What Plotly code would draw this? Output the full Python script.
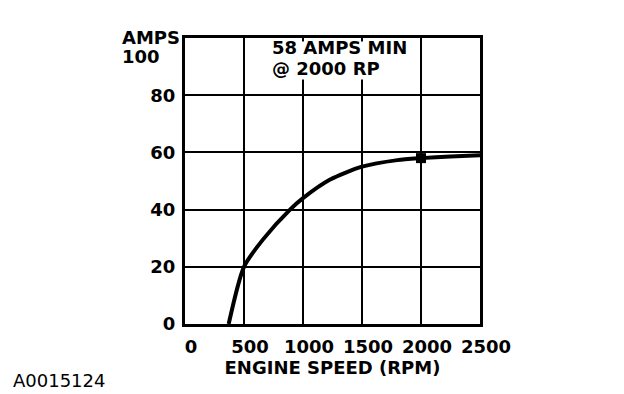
import plotly.graph_objects as go

rpm = [370, 500, 660, 890, 1000, 1230, 1500, 1800, 2000, 2250, 2500]
amps = [0, 20, 29.5, 40, 44, 50.5, 55, 57.3, 58, 58.6, 59]
marker_rpm = [2000]
marker_amps = [58]
x_ticks = [0, 500, 1000, 1500, 2000, 2500]
y_ticks = [0, 20, 40, 60, 80]
y_top_label = "100"
y_unit = "AMPS"
x_title = "ENGINE SPEED (RPM)"
note_lines = ["58 AMPS MIN", "@ 2000 RP"]
figure_id = "A0015124"

FONT = "DejaVu Sans"
BOLD = dict(family=FONT, size=18, color="black", weight="bold")

fig = go.Figure()
fig.add_trace(go.Scatter(x=rpm, y=amps, mode="lines",
                         line=dict(color="black", width=4, shape="spline", smoothing=0.7),
                         hoverinfo="skip", showlegend=False))
fig.add_trace(go.Scatter(x=marker_rpm, y=marker_amps, mode="markers",
                         marker=dict(symbol="square", size=10, color="black"),
                         showlegend=False))

fig.update_xaxes(range=[0, 2500], tickvals=x_ticks, ticktext=[str(v) for v in x_ticks],
                 showgrid=True, gridcolor="black", gridwidth=2,
                 showline=True, linecolor="black", linewidth=3, mirror=True,
                 zeroline=False, ticks="", ticklabelstandoff=4, ticklabelshift=6,
                 tickfont=BOLD,
                 title=dict(text=x_title, standoff=4, font=BOLD))
fig.update_yaxes(range=[0, 100], tickvals=y_ticks, ticktext=[str(v) for v in y_ticks],
                 showgrid=True, gridcolor="black", gridwidth=2,
                 showline=True, linecolor="black", linewidth=3, mirror=True,
                 zeroline=False, ticks="", ticklabelstandoff=3,
                 tickfont=BOLD)

# white patch behind the note (covers the grid lines, as in the reference)
fig.add_shape(type="rect", xref="paper", yref="paper", x0=0.29, x1=0.765, y0=0.855, y1=0.988,
              fillcolor="white", line=dict(width=0), layer="above")

fig.add_annotation(xref="paper", yref="paper", x=-0.222, y=1.003, xanchor="left", yanchor="middle",
                   text=y_unit, showarrow=False, font=BOLD)
fig.add_annotation(xref="paper", yref="paper", x=-0.222, y=0.934, xanchor="left", yanchor="middle",
                   text=y_top_label, showarrow=False, font=BOLD)
fig.add_annotation(xref="paper", yref="paper", x=0.29, y=0.966, xanchor="left", yanchor="middle",
                   text=note_lines[0], showarrow=False, borderpad=0, font=BOLD)
fig.add_annotation(xref="paper", yref="paper", x=0.29, y=0.893, xanchor="left", yanchor="middle",
                   text=note_lines[1], showarrow=False, borderpad=0, font=BOLD)
fig.add_annotation(xref="paper", yref="paper", x=-0.59, y=-0.199, xanchor="left", yanchor="middle",
                   text=figure_id, showarrow=False,
                   font=dict(family=FONT, size=18, color="black"))

fig.update_layout(width=624, height=394, paper_bgcolor="white", plot_bgcolor="white",
                  margin=dict(l=177, r=152, t=30, b=78), showlegend=False)

fig.write_html("out.html")
